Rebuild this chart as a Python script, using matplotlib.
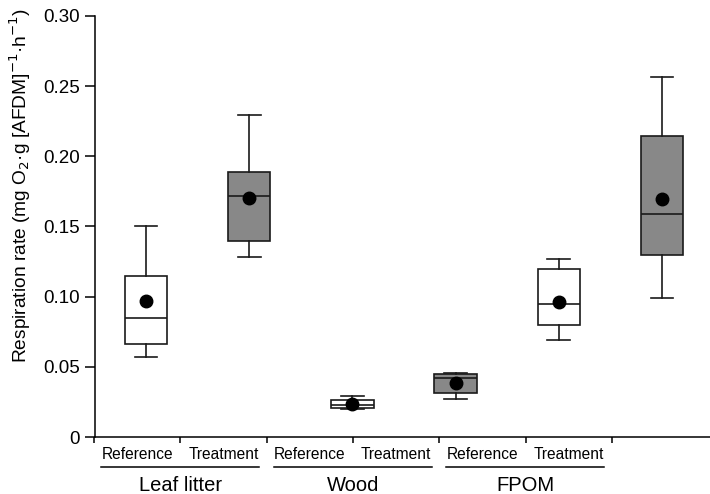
import matplotlib
matplotlib.use("Agg")
import matplotlib.pyplot as plt
import matplotlib.transforms as mtransforms

plt.rcParams["font.family"] = ["Liberation Sans", "DejaVu Sans"]

# box summaries (Reference, Treatment for each substrate)
groups = ["Leaf litter", "Wood", "FPOM"]
sites = ["Reference", "Treatment"]
whislo = [0.057, 0.128, 0.020, 0.027, 0.069, 0.099]
q1 = [0.066, 0.140, 0.0205, 0.0314, 0.080, 0.130]
med = [0.085, 0.172, 0.0228, 0.042, 0.095, 0.159]
q3 = [0.115, 0.189, 0.0264, 0.045, 0.120, 0.2145]
whishi = [0.150, 0.2295, 0.0292, 0.0456, 0.127, 0.2566]
means = [0.097, 0.170, 0.0238, 0.0385, 0.096, 0.1696]
fills = ["white", "#888888"] * 3

fig = plt.figure(figsize=(7.1, 4.94), dpi=100)
ax = fig.add_axes([95 / 710, 57 / 494, 615 / 710, 421 / 494])

stats = [dict(whislo=a, q1=b, med=c, q3=d, whishi=e, mean=m)
         for a, b, c, d, e, m in zip(whislo, q1, med, q3, whishi, means)]
pos = list(range(1, len(stats) + 1))
bp = ax.bxp(stats, positions=pos, widths=0.41, capwidths=0.22,
            showmeans=True, showfliers=False, patch_artist=True,
            boxprops=dict(linewidth=1.2, edgecolor="#1a1a1a"),
            medianprops=dict(color="#1a1a1a", linewidth=1.2),
            whiskerprops=dict(color="#1a1a1a", linewidth=1.2),
            capprops=dict(color="#1a1a1a", linewidth=1.2),
            meanprops=dict(marker="o", markerfacecolor="black",
                           markeredgecolor="black", markersize=9))
for patch, c in zip(bp["boxes"], fills):
    patch.set_facecolor(c)
for m in bp["means"]:
    m.set_zorder(5)

ax.set_xlim(0.505, 6.466)
ax.set_ylim(0, 0.30)
ax.set_yticks([0, 0.05, 0.10, 0.15, 0.20, 0.25, 0.30])
ax.set_yticklabels(["0", "0.05", "0.10", "0.15", "0.20", "0.25", "0.30"])
ax.tick_params(axis="y", direction="out", length=7, width=1.1, pad=4, labelsize=13.5)
ax.set_xticks([])
for s in ["top", "right"]:
    ax.spines[s].set_visible(False)
for s in ["left", "bottom"]:
    ax.spines[s].set_linewidth(1.1)
ax.set_ylabel("Respiration rate (mg O$_2$·g [AFDM]$^{-1}$·h$^{-1}$)", fontsize=13.8)
ax.yaxis.set_label_coords(-0.100, 0.597)

# second axis carrying the group/site labels below the plot
lab = fig.add_axes([94 / 710, 57 / 494, 518 / 710, 421 / 494])
lab.patch.set_visible(False)
for s in lab.spines.values():
    s.set_visible(False)
lab.set_xlim(0, 6)
lab.set_yticks([])
lab.set_xticks(range(7))
lab.set_xticklabels([])
lab.tick_params(axis="x", direction="out", length=4.5, width=1.1)

tr = mtransforms.blended_transform_factory(lab.transData, fig.transFigure)
for g, name in enumerate(groups):
    for k, site in enumerate(sites):
        lab.text(2 * g + k + 0.5, 0.079, site, transform=tr, ha="center",
                 va="center", fontsize=11.2)
    lab.plot([2 * g + 0.08, 2 * g + 1.91], [0.0547, 0.0547], transform=tr,
             color="black", linewidth=1.1, clip_on=False)
    lab.text(2 * g + 1, 0.018, name, transform=tr, ha="center",
             va="center", fontsize=14.5)

fig.savefig("out.png", dpi=100)
